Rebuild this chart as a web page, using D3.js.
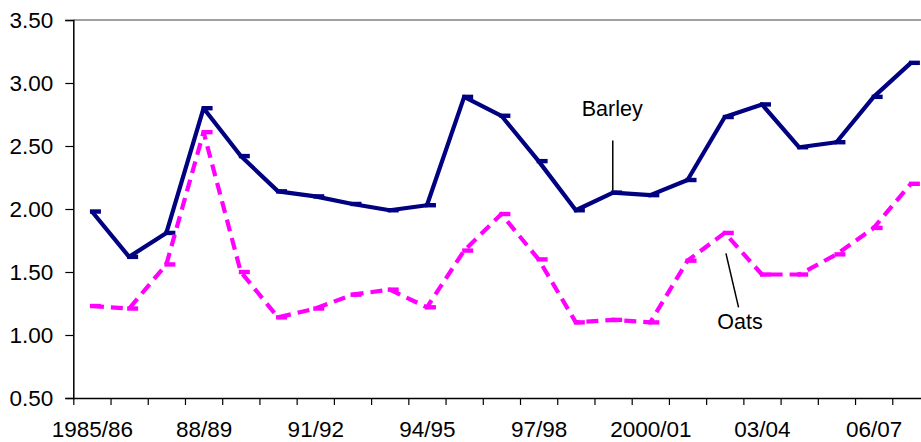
<!DOCTYPE html>
<html>
<head>
<meta charset="utf-8">
<script src="https://cdn.jsdelivr.net/npm/d3@7"></script>
<style>
  body { margin: 0; background: #fff; }
  svg { display: block; font-family: "Liberation Sans", Arial, sans-serif; }
</style>
</head>
<body>
<svg id="chart"></svg>
<script>
// seasons 1985/86 .. 2007/08
const seasons = ["1985/86","86/87","87/88","88/89","89/90","90/91","91/92","92/93","93/94","94/95",
  "95/96","96/97","97/98","98/99","99/00","2000/01","01/02","02/03","03/04","04/05","05/06","06/07","07/08"];
const labelEvery = 3;
const barley = [1.98,1.62,1.81,2.80,2.42,2.14,2.10,2.04,1.99,2.03,2.89,2.74,2.38,1.99,2.13,2.11,2.23,2.73,2.83,2.49,2.53,2.89,3.16];
const oats   = [1.23,1.21,1.56,2.61,1.50,1.14,1.21,1.32,1.36,1.22,1.67,1.96,1.60,1.10,1.12,1.10,1.59,1.81,1.48,1.48,1.64,1.85,2.20];
const yTicks = [0.5,1.0,1.5,2.0,2.5,3.0,3.5];

const svgWidth = 921, svgHeight = 442;
const margin = { top: 20, left: 73.3, bottom: 44 };
const plotRight = 929.5; // plot area runs past the right edge of the picture

const svg = d3.select("#chart").attr("width", svgWidth).attr("height", svgHeight);

const x = d3.scaleLinear().domain([0, seasons.length]).range([margin.left, plotRight]);
const y = d3.scaleLinear().domain([0.5, 3.5]).range([svgHeight - margin.bottom, margin.top]);

// top border of plot area
svg.append("line")
  .attr("x1", margin.left).attr("x2", plotRight)
  .attr("y1", y(3.5)).attr("y2", y(3.5))
  .attr("stroke", "#808080").attr("stroke-width", 1.5);

// y axis
const yAxis = svg.append("g")
  .attr("transform", `translate(${margin.left},0)`)
  .call(d3.axisLeft(y).tickValues(yTicks).tickFormat(d3.format(".2f")).tickSize(8).tickPadding(12));
yAxis.select(".domain").attr("stroke", "#000").attr("stroke-width", 1.5);
yAxis.selectAll(".tick line").attr("stroke", "#000").attr("stroke-width", 1.2);
yAxis.selectAll("text").style("font-size", "22.5px").attr("fill", "#000");

// x axis: ticks at category boundaries
const xTickAxis = svg.append("g")
  .attr("transform", `translate(0,${y(0.5)})`)
  .call(d3.axisBottom(x).tickValues(d3.range(0, seasons.length + 1)).tickFormat("").tickSize(7).tickSizeOuter(0));
xTickAxis.select(".domain").attr("stroke", "#000").attr("stroke-width", 1.5);
xTickAxis.selectAll(".tick line").attr("stroke", "#000").attr("stroke-width", 1.2);

// x axis labels at category centres
const labelIdx = d3.range(0, seasons.length, labelEvery);
const xLabelAxis = svg.append("g")
  .attr("transform", `translate(0,${y(0.5)})`)
  .call(d3.axisBottom(x).tickValues(labelIdx.map(i => i + 0.5)).tickFormat(d => seasons[d - 0.5]).tickSize(0));
xLabelAxis.select(".domain").remove();
xLabelAxis.selectAll("text")
  .attr("y", 39).attr("dy", 0)
  .style("font-size", "22.5px").attr("fill", "#000");

const cx = i => x(i + 0.5);

// series
const series = [
  { name: "Barley", values: barley, color: "#000080", dash: null },
  { name: "Oats", values: oats, color: "#FF00FF", dash: "12,7" }
];

series.forEach(s => {
  const line = d3.line().x((d, i) => cx(i)).y(d => y(d));
  svg.append("path")
    .datum(s.values)
    .attr("fill", "none")
    .attr("stroke", s.color)
    .attr("stroke-width", 4.2)
    .attr("stroke-linejoin", "round")
    .attr("stroke-dasharray", s.dash)
    .attr("d", line);

  // dash markers
  svg.append("g").selectAll("rect")
    .data(s.values)
    .enter()
    .append("rect")
    .attr("x", (d, i) => cx(i) - 2)
    .attr("y", d => y(d) - 2.2)
    .attr("width", 11)
    .attr("height", 4.4)
    .attr("fill", s.color);
});

// annotations
const bi = 14, oi = 17;
svg.append("line")
  .attr("x1", cx(bi) - 0.3).attr("x2", cx(bi) - 0.3)
  .attr("y1", y(barley[bi]) - 52).attr("y2", y(barley[bi]) - 2)
  .attr("stroke", "#000").attr("stroke-width", 1.5);
svg.append("text")
  .attr("x", 581.7).attr("y", 116)
  .style("font-size", "21.5px").attr("fill", "#000")
  .text("Barley");

svg.append("line")
  .attr("x1", cx(oi) + 1.2).attr("x2", cx(oi) + 13.8)
  .attr("y1", y(oats[oi]) + 20.5).attr("y2", y(oats[oi]) + 74.5)
  .attr("stroke", "#000").attr("stroke-width", 1.5);
svg.append("text")
  .attr("x", 717.3).attr("y", 329)
  .style("font-size", "21.5px").attr("fill", "#000")
  .text("Oats");
</script>
</body>
</html>
